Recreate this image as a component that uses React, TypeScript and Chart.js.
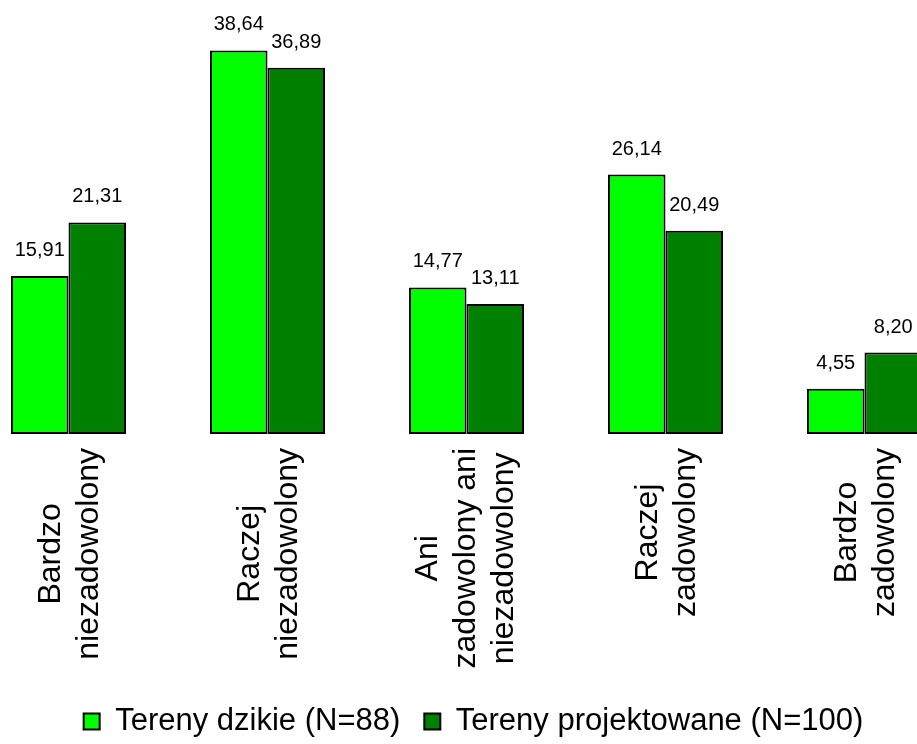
import React, { useEffect, useRef } from "react";
import { Chart, registerables } from "chart.js";

Chart.register(...registerables);

const FONT = "'Liberation Sans', Arial, sans-serif";

const categoryLines: string[][] = [
  ["Bardzo", "niezadowolony"],
  ["Raczej", "niezadowolony"],
  ["Ani", "zadowolony ani", "niezadowolony"],
  ["Raczej", "zadowolony"],
  ["Bardzo", "zadowolony"],
];
const seriesNames = ["Tereny dzikie (N=88)", "Tereny projektowane (N=100)"];
const wildValues = [15.91, 38.64, 14.77, 26.14, 4.55];
const designedValues = [21.31, 36.89, 13.11, 20.49, 8.2];
const yMax = 40;

const categoryLabelPlugin = {
  id: "categoryLabels",
  afterDraw(chart: any) {
    const { ctx, chartArea } = chart;
    const x = chart.scales.x;
    ctx.save();
    ctx.font = `32px ${FONT}`;
    ctx.fillStyle = "#000";
    ctx.textAlign = "center";
    ctx.textBaseline = "middle";
    categoryLines.forEach((lines, i) => {
      const cx = x.getPixelForValue(i);
      const top = chartArea.bottom + 14;
      const maxW = Math.max(...lines.map((l) => ctx.measureText(l).width));
      ctx.save();
      ctx.translate(cx, top);
      ctx.rotate(-Math.PI / 2);
      lines.forEach((line, j) => {
        const shift = lines.length === 2 ? 2 : 0;
        ctx.fillText(line, -maxW / 2, (j - (lines.length - 1) / 2) * 38 + shift);
      });
      ctx.restore();
    });
    ctx.restore();
  },
};

const valueLabelPlugin = {
  id: "valueLabels",
  afterDatasetsDraw(chart: any) {
    const { ctx } = chart;
    ctx.save();
    ctx.font = `20px ${FONT}`;
    ctx.fillStyle = "#000";
    ctx.textAlign = "center";
    ctx.textBaseline = "alphabetic";
    chart.data.datasets.forEach((ds: any, di: number) => {
      const meta = chart.getDatasetMeta(di);
      meta.data.forEach((bar: any, i: number) => {
        const v = ds.data[i] as number;
        ctx.fillText(v.toFixed(2).replace(".", ","), bar.x, bar.y - 20);
      });
    });
    ctx.restore();
  },
};

const legendShiftPlugin = {
  id: "legendShift",
  afterLayout(chart: any) {
    if (chart.legend) {
      chart.legend.left += 7;
      chart.legend.right += 7;
      chart.legend.top += 1;
      chart.legend.bottom += 1;
    }
  },
};

export default function App() {
  const canvasRef = useRef<HTMLCanvasElement | null>(null);

  useEffect(() => {
    if (!canvasRef.current) return;
    const chart = new Chart(canvasRef.current, {
      type: "bar",
      data: {
        labels: categoryLines.map((l) => l.join(" ")),
        datasets: [
          {
            label: seriesNames[0],
            data: wildValues,
            backgroundColor: "#00FF00",
            borderColor: "#000000",
            borderWidth: 2,
            borderSkipped: false,
          },
          {
            label: seriesNames[1],
            data: designedValues,
            backgroundColor: "#008000",
            borderColor: "#000000",
            borderWidth: 2,
            borderSkipped: false,
          },
        ],
      },
      options: {
        responsive: true,
        maintainAspectRatio: false,
        animation: false,
        categoryPercentage: 0.578,
        barPercentage: 1,
        layout: { padding: { top: 37, left: 0, right: 25, bottom: 0 } },
        scales: {
          x: {
            display: true,
            grid: { display: false },
            border: { display: false },
            ticks: { display: false },
            afterFit: (scale: any) => {
              scale.height = 247;
            },
          },
          y: { display: false, min: 0, max: yMax },
        },
        plugins: {
          legend: {
            position: "bottom",
            labels: {
              color: "#000",
              font: { family: FONT, size: 31 },
              boxWidth: 16,
              boxHeight: 16,
              padding: 24,
            },
          },
          tooltip: { enabled: false },
        },
      } as any,
      plugins: [categoryLabelPlugin, valueLabelPlugin, legendShiftPlugin],
    });
    return () => chart.destroy();
  }, []);

  return (
    <div
      style={{
        position: "fixed",
        left: 0,
        top: 0,
        width: 917,
        height: 744,
        overflow: "hidden",
        background: "#fff",
      }}
    >
      <div style={{ position: "absolute", left: -31, top: 0, width: 1020, height: 746 }}>
        <canvas ref={canvasRef} />
      </div>
    </div>
  );
}
